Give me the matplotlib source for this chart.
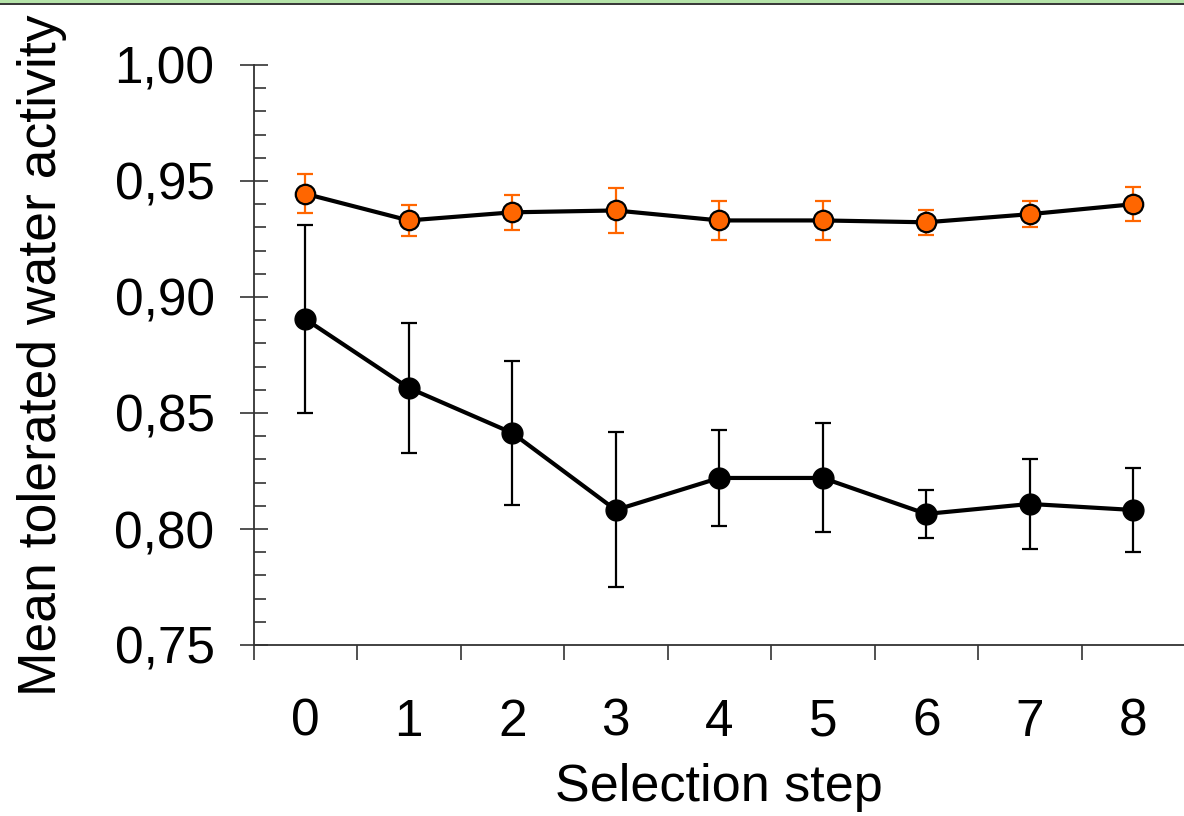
import matplotlib
matplotlib.use('Agg')
import matplotlib.pyplot as plt
from matplotlib.patches import Rectangle
from matplotlib.ticker import FixedLocator, MultipleLocator, FuncFormatter
import numpy as np

plt.rcParams['font.family'] = ['Liberation Sans', 'DejaVu Sans']

steps = [0, 1, 2, 3, 4, 5, 6, 7, 8]
orange_mean = [0.9445, 0.9330, 0.9365, 0.9373, 0.9330, 0.9330, 0.9322, 0.9357, 0.9400]
orange_err = [0.0085, 0.0065, 0.0076, 0.0095, 0.0085, 0.0085, 0.0054, 0.0056, 0.0073]
black_mean = [0.8905, 0.8608, 0.8414, 0.8082, 0.8220, 0.8220, 0.8065, 0.8108, 0.8082]
black_err = [0.0407, 0.0280, 0.0310, 0.0334, 0.0205, 0.0235, 0.0103, 0.0194, 0.0180]

orange = '#FF6600'

fig = plt.figure(figsize=(11.84, 8.16), dpi=100)
ax = fig.add_axes([253.5 / 1184, 1 - 645 / 816, 931.5 / 1184, 580 / 816])

# error bars (behind markers)
ax.errorbar(steps, orange_mean, yerr=orange_err, fmt='none', ecolor=orange,
            elinewidth=1.6, capsize=5.5, capthick=1.6, zorder=2)
ax.errorbar(steps, black_mean, yerr=black_err, fmt='none', ecolor='black',
            elinewidth=1.6, capsize=5.5, capthick=1.6, zorder=2)

# lines + markers
ax.plot(steps, black_mean, '-o', color='black', lw=3.0, markersize=15,
        markerfacecolor='black', markeredgecolor='black', zorder=3)
ax.plot(steps, orange_mean, '-o', color='black', lw=3.0, markersize=14,
        markerfacecolor=orange, markeredgecolor='black', markeredgewidth=1.6, zorder=4)

ax.set_xlim(-0.5, 8.5)
ax.set_ylim(0.75, 1.00)

# spines
for s in ['top', 'right']:
    ax.spines[s].set_visible(False)
for s in ['left', 'bottom']:
    ax.spines[s].set_color('#333333')
    ax.spines[s].set_linewidth(1.3)
ax.spines['left'].set_zorder(1)
ax.spines['bottom'].set_zorder(1)

# y ticks
ax.yaxis.set_major_locator(MultipleLocator(0.05))
ax.yaxis.set_minor_locator(MultipleLocator(0.01))
ax.yaxis.set_major_formatter(FuncFormatter(lambda v, p: f'{v:.2f}'.replace('.', ',')))
ax.tick_params(axis='y', which='major', direction='inout', length=20, width=1.2,
               color='#333333', labelsize=37, pad=18)
ax.tick_params(axis='y', which='minor', direction='in', length=8.6, width=1.2,
               color='#333333')

# x ticks: labels at centres, tick marks at boundaries
ax.set_xticks(steps)
ax.set_xticklabels([str(s) for s in steps])
ax.xaxis.set_minor_locator(FixedLocator(np.arange(-0.5, 8.6, 1.0)))
ax.tick_params(axis='x', which='major', length=0, labelsize=37, pad=38)
ax.tick_params(axis='x', which='minor', direction='out', length=11, width=1.2,
               color='#333333')

ax.set_xlabel('Selection step', fontsize=37.5, labelpad=12)
ax.set_ylabel('Mean tolerated water activity', fontsize=38.5)
ax.yaxis.set_label_coords(-0.200, 0.5)

# top border band
fig.add_artist(Rectangle((0, 1 - 3 / 816), 1, 3 / 816, transform=fig.transFigure,
                         facecolor='#b5e3a9', edgecolor='none'))
fig.add_artist(Rectangle((0, 1 - 5 / 816), 1, 2.0 / 816, transform=fig.transFigure,
                         facecolor='#3a3a3a', edgecolor='none'))

fig.savefig('out.png', dpi=100)
